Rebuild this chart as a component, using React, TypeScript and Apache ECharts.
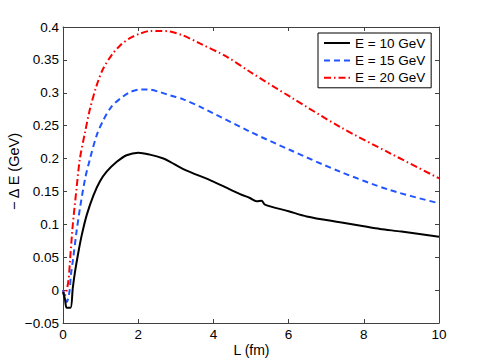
import React, { useEffect, useRef } from "react";
import * as echarts from "echarts";

// L (fm) sample positions and -ΔE (GeV) values
const L10 = [0, 0.05, 0.1, 0.2, 0.26, 0.32, 0.41, 0.5, 0.63, 0.81, 0.98, 1.16, 1.43, 1.69, 2.0, 2.31, 2.67, 2.85, 3.2, 4.0, 4.71, 4.97, 5.15, 5.28, 5.37, 6.0, 6.48, 7.37, 8.0, 8.43, 9.0, 10];
const dE10 = [-0.003, -0.013, -0.027, -0.027, 0.003, 0.028, 0.058, 0.084, 0.114, 0.144, 0.165, 0.18, 0.195, 0.205, 0.209, 0.206, 0.2, 0.195, 0.184, 0.165, 0.146, 0.14, 0.135, 0.136, 0.13, 0.12, 0.112, 0.103, 0.097, 0.093, 0.089, 0.081];

const L15 = [0, 0.1, 0.17, 0.21, 0.27, 0.36, 0.45, 0.59, 0.72, 0.9, 1.07, 1.29, 1.52, 1.78, 2.05, 2.27, 2.58, 2.85, 3.2, 3.64, 4.97, 6.04, 7.37, 8.7, 10];
const dE15 = [0.0, -0.018, -0.003, 0.023, 0.048, 0.089, 0.124, 0.17, 0.2, 0.236, 0.258, 0.279, 0.291, 0.301, 0.305, 0.305, 0.301, 0.296, 0.29, 0.279, 0.241, 0.213, 0.18, 0.152, 0.132];

const L20 = [0, 0.05, 0.14, 0.19, 0.26, 0.35, 0.45, 0.59, 0.72, 0.9, 1.07, 1.29, 1.52, 1.78, 2.05, 2.31, 2.58, 2.85, 3.2, 3.64, 4.35, 4.97, 6.04, 7.37, 8.7, 10];
const dE20 = [0.0, -0.008, 0.013, 0.048, 0.099, 0.149, 0.2, 0.241, 0.276, 0.312, 0.337, 0.357, 0.372, 0.383, 0.39, 0.394, 0.394, 0.393, 0.387, 0.375, 0.355, 0.332, 0.294, 0.248, 0.208, 0.17];

const seriesNames = ["E = 10 GeV", "E = 15 GeV", "E = 20 GeV"];
const xMin = 0, xMax = 10, xInterval = 2;
const yMin = -0.05, yMax = 0.4, yInterval = 0.05;
const xTitle = "L (fm)";
const yTitle = "\u2212 \u0394 E (GeV)";

const FONT = "'Liberation Sans', Arial, Helvetica, sans-serif";
const AXIS_COLOR = "#404040";

function fmtY(v: number): string {
  const r = Math.round(v * 100) / 100;
  if (r === 0) return "0";
  const s = String(Math.abs(r));
  return r < 0 ? "\u2212" + s : s;
}

export default function App() {
  const ref = useRef<HTMLDivElement>(null);
  useEffect(() => {
    if (!ref.current) return;
    const chart = echarts.init(ref.current, undefined, { renderer: "svg" });
    const axisCommon = {
      axisLine: { show: true, onZero: false, lineStyle: { color: AXIS_COLOR, width: 1 } },
      axisTick: { show: true, inside: true, length: 4, lineStyle: { color: AXIS_COLOR, width: 1 } },
      splitLine: { show: false },
    };
    const mk = (xs: number[], ys: number[]) => xs.map((x, i) => [x, ys[i]]);
    chart.setOption({
      animation: false,
      backgroundColor: "#ffffff",
      textStyle: { fontFamily: FONT },
      grid: { left: 63, top: 27, width: 376, height: 296, containLabel: false },
      xAxis: [
        {
          type: "value", position: "bottom", min: xMin, max: xMax, interval: xInterval,
          ...axisCommon,
          axisLabel: { show: true, margin: 4, color: "#000", fontSize: 13.5, fontFamily: FONT },
        },
        {
          type: "value", position: "top", min: xMin, max: xMax, interval: xInterval,
          ...axisCommon,
          axisLabel: { show: false },
        },
      ],
      yAxis: [
        {
          type: "value", position: "left", min: yMin, max: yMax, interval: yInterval,
          ...axisCommon,
          axisLabel: { show: true, margin: 4, color: "#000", fontSize: 13.5, fontFamily: FONT, formatter: fmtY },
        },
        {
          type: "value", position: "right", min: yMin, max: yMax, interval: yInterval,
          ...axisCommon,
          axisLabel: { show: false },
        },
      ],
      legend: {
        show: true,
        orient: "vertical",
        left: 318,
        top: 33,
        padding: [3, 6, 3, 5],
        itemWidth: 26,
        itemHeight: 14,
        itemGap: 3.4,
        backgroundColor: "#ffffff",
        borderColor: "#000000",
        borderWidth: 1,
        borderRadius: 0,
        data: seriesNames,
        itemStyle: { color: "transparent", borderColor: "transparent", borderWidth: 0 },
        textStyle: { color: "#000", fontSize: 13.5, fontFamily: FONT, lineHeight: 14 },
      },
      series: [
        {
          name: seriesNames[0], type: "line", data: mk(L10, dE10), showSymbol: false, symbol: "none",
          smooth: 0.3,
          lineStyle: { color: "#000000", width: 2, type: "solid" },
          itemStyle: { color: "#000000" },
          z: 3,
        },
        {
          name: seriesNames[1], type: "line", data: mk(L15, dE15), showSymbol: false, symbol: "none",
          smooth: 0.3,
          lineStyle: { color: "#2255ff", width: 2, type: [6, 4] },
          itemStyle: { color: "#2255ff" },
          z: 2,
        },
        {
          name: seriesNames[2], type: "line", data: mk(L20, dE20), showSymbol: false, symbol: "none",
          smooth: 0.3,
          lineStyle: { color: "#ff0000", width: 2, type: [7, 3, 1.5, 3] },
          itemStyle: { color: "#ff0000" },
          z: 1,
        },
      ],
      graphic: [
        {
          type: "text", x: 251.5, y: 350,
          style: { text: xTitle, fill: "#000", font: `14px ${FONT}`, align: "center", verticalAlign: "middle" },
        },
        {
          type: "text", x: 14, y: 171.5, rotation: Math.PI / 2,
          style: { text: yTitle, fill: "#000", font: `14.5px ${FONT}`, align: "center", verticalAlign: "middle" },
        },
      ],
    });
    return () => chart.dispose();
  }, []);
  return (
    <div
      ref={ref}
      style={{ position: "fixed", left: 0, top: 0, width: 485, height: 364, background: "#fff" }}
    />
  );
}
